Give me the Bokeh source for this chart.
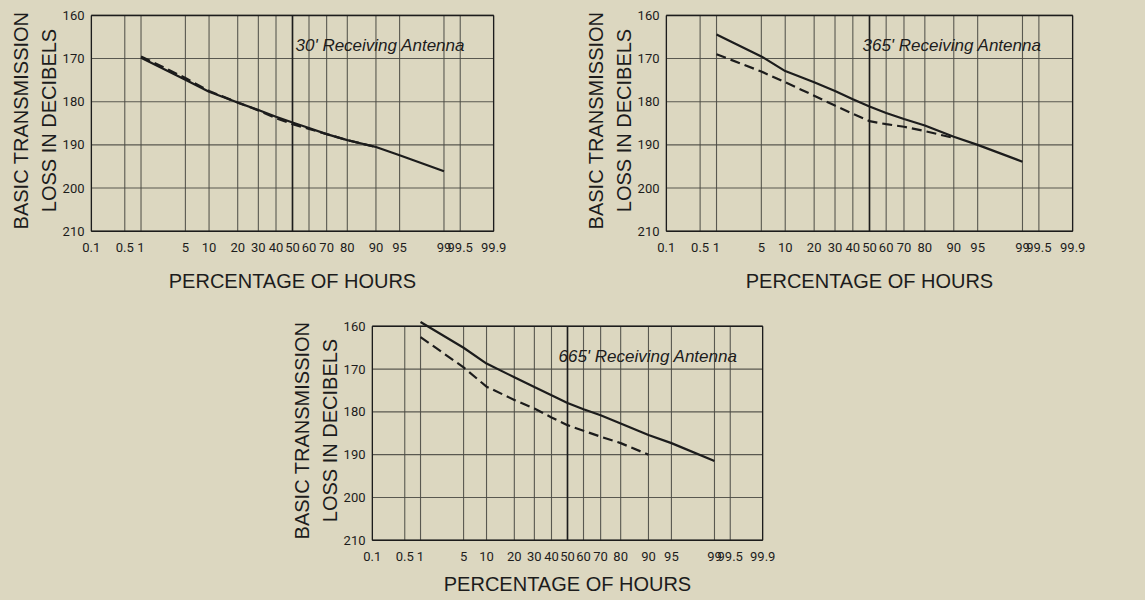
from statistics import NormalDist
from bokeh.plotting import figure
from bokeh.layouts import row, column, Spacer
from bokeh.models import Range1d, FixedTicker, CustomJSTickFormatter, LinearAxis
from bokeh.core.properties import value
from bokeh.embed import file_html
from bokeh.resources import INLINE

# ---------------- data ----------------
tick_pct = [0.1, 0.5, 1, 5, 10, 20, 30, 40, 50, 60, 70, 80, 90, 95, 99, 99.5, 99.9]
tick_labels = ["0.1", "0.5", "1", "5", "10", "20", "30", "40", "50", "60",
               "70", "80", "90", "95", "99", "99.5", "99.9"]
loss_ticks = [160, 170, 180, 190, 200, 210]

pct_solid = [1, 5, 10, 20, 30, 40, 50, 60, 70, 80, 90, 95, 99]
pct_dashed = [1, 5, 10, 20, 30, 40, 50, 60, 70, 80, 90]

a30_solid = [169.8, 174.9, 177.7, 180.2, 181.9, 183.5, 184.8, 186.1, 187.5, 188.9, 190.5, 192.4, 196.1]
a30_dashed = [169.5, 174.5, 177.5, 180.2, 182.0, 183.8, 185.2, 186.3, 187.5, 188.9, 190.5]

a365_solid = [164.4, 169.5, 172.9, 175.5, 177.5, 179.4, 181.1, 182.6, 184.0, 185.5, 188.1, 190.0, 193.9]
a365_dashed = [169.0, 173.0, 175.5, 178.6, 180.9, 182.8, 184.5, 185.2, 185.8, 186.8, 188.4]

a665_solid = [159.0, 165.0, 168.7, 171.9, 174.2, 176.1, 177.9, 179.4, 180.8, 182.7, 185.4, 187.3, 191.5]
a665_dashed = [162.5, 169.6, 174.1, 177.2, 179.2, 181.3, 183.1, 184.4, 185.8, 187.3, 190.0]

antenna_labels = ["30' Receiving Antenna", "365' Receiving Antenna", "665' Receiving Antenna"]
x_title = "PERCENTAGE OF HOURS"
y_title_1 = "BASIC TRANSMISSION"
y_title_2 = "LOSS IN DECIBELS"

# ---------------- styling ----------------
BG = "#dcd7c0"
INK = "#1c1c1c"
GRID = "#4a4a44"
nd = NormalDist()


def z(p):
    return nd.inv_cdf(p / 100.0)


ZMIN, ZMAX = z(tick_pct[0]), z(tick_pct[-1])
EPS = 0.012


def style_axis(ax):
    ax.axis_line_color = None
    ax.major_tick_line_color = None
    ax.minor_tick_line_color = None
    ax.major_tick_out = 0
    ax.major_tick_in = 0
    ax.major_label_text_font = "Roboto"
    ax.major_label_text_font_size = "13px"
    ax.major_label_text_color = INK
    ax.axis_label_text_font = "Liberation Sans"
    ax.axis_label_text_font_style = "normal"
    ax.axis_label_text_color = INK
    ax.axis_label_text_font_size = "20px"


def make_panel(label, solid, dashed, frame_w, frame_h, bl, br, bt, bb, text_dx,
               tick_standoff, xlab_standoff):
    p = figure(frame_width=frame_w, frame_height=frame_h,
               x_range=Range1d(ZMIN - EPS, ZMAX + EPS),
               y_range=Range1d(210.3, 158.4),
               output_backend="svg", toolbar_location=None,
               min_border_left=bl, min_border_right=br,
               min_border_top=bt, min_border_bottom=bb)
    p.background_fill_color = BG
    p.border_fill_color = BG
    p.outline_line_color = None
    p.xgrid.visible = False
    p.ygrid.visible = False

    zt = [z(t) for t in tick_pct]
    # vertical grid lines (only between 160 and 210)
    p.segment(x0=zt, y0=[loss_ticks[0]] * len(zt), x1=zt, y1=[loss_ticks[-1]] * len(zt),
              line_color=GRID, line_width=1.1, line_alpha=0.9)
    # horizontal grid lines
    p.segment(x0=[ZMIN] * len(loss_ticks), y0=loss_ticks, x1=[ZMAX] * len(loss_ticks), y1=loss_ticks,
              line_color=GRID, line_width=1.1, line_alpha=0.9)
    # heavier 50% line and frame
    p.segment(x0=[z(50)], y0=[loss_ticks[0]], x1=[z(50)], y1=[loss_ticks[-1]],
              line_color=INK, line_width=1.6)
    p.segment(x0=[ZMIN, ZMAX, ZMIN, ZMIN], y0=[160, 160, 160, 210],
              x1=[ZMIN, ZMAX, ZMAX, ZMAX], y1=[210, 210, 160, 210],
              line_color=INK, line_width=1.5)

    # curves
    p.line([z(v) for v in pct_solid], solid, line_color=INK, line_width=2.2)
    p.line([z(v) for v in pct_dashed], dashed, line_color=INK, line_width=2.2, line_dash="10 5")

    # annotation
    p.text(x=[z(50)], y=[167.0], text=[label], x_offset=text_dx,
           text_font=value("Liberation Sans"), text_font_style="italic",
           text_font_size="17px", text_color=INK, text_baseline="alphabetic")

    # axes
    p.xaxis.ticker = FixedTicker(ticks=zt)
    p.xaxis.formatter = CustomJSTickFormatter(args=dict(zs=zt, labels=tick_labels), code="""
        let best = 0, bd = 1e9;
        for (let i = 0; i < zs.length; i++) {
            const d = Math.abs(zs[i] - tick);
            if (d < bd) { bd = d; best = i; }
        }
        return labels[best];
    """)
    p.yaxis.ticker = FixedTicker(ticks=loss_ticks)
    style_axis(p.xaxis[0])
    style_axis(p.yaxis[0])
    p.xaxis.major_label_standoff = tick_standoff
    p.yaxis.major_label_standoff = 6
    p.xaxis.axis_label = x_title
    p.xaxis.axis_label_standoff = xlab_standoff
    p.yaxis.axis_label = y_title_2
    p.yaxis.axis_label_standoff = 0

    outer = LinearAxis(ticker=FixedTicker(ticks=[]), axis_label=y_title_1)
    style_axis(outer)
    outer.major_label_standoff = 0
    outer.axis_label_standoff = 3
    p.add_layout(outer, "left")
    return p


p1 = make_panel(antenna_labels[0], a30_solid, a30_dashed, 404, 224, 90, 81, 8, 77, 3, 10, 15)
p2 = make_panel(antenna_labels[1], a365_solid, a365_dashed, 408, 224, 90, 20, 8, 77, -7, 10, 15)
p3 = make_panel(antenna_labels[2], a665_solid, a665_dashed, 392, 222, 90, 20, 10, 58, -9, 10, 9)

layout = column(row(p1, p2), row(Spacer(width=281, height=10), p3))
layout.styles = {"background-color": BG}

html = file_html(layout, INLINE)
html = html.replace("</head>",
                    "<style>html, body { margin: 0; padding: 0; background-color: %s; }</style></head>" % BG, 1)
open("out.html", "w").write(html)
